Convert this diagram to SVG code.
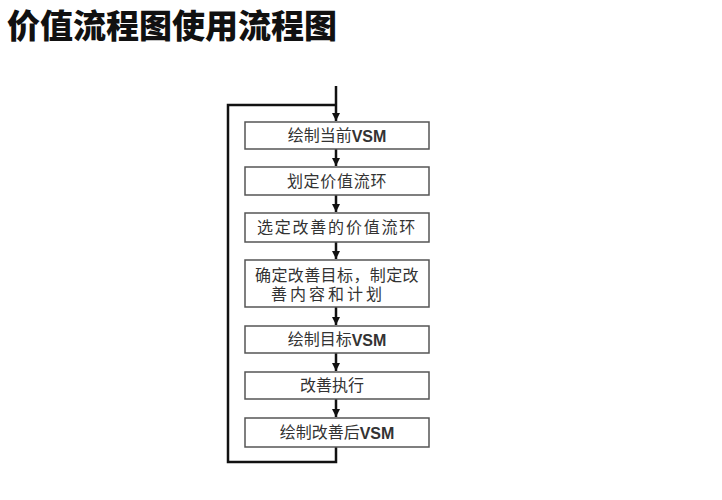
<svg xmlns="http://www.w3.org/2000/svg" width="722" height="500" viewBox="0 0 722 500">
<style>
.title{font-family:"Noto Sans CJK SC",sans-serif;font-size:33px;font-weight:900;fill:#111}
.box{fill:#fff;stroke:#555;stroke-width:1.5}
.lbl{font-family:"Liberation Sans","Noto Sans CJK SC",sans-serif;font-size:16px;fill:#333;text-anchor:middle;dominant-baseline:central}
.b{font-weight:bold}
.ln{fill:none;stroke:#111;stroke-width:2.5}
</style>
<defs>
<marker id="ah" viewBox="0 0 10 10" refX="10" refY="5" markerWidth="3.2" markerHeight="3.2" orient="auto" markerUnits="strokeWidth">
<path d="M0,0 L10,5 L0,10 z" fill="#111"/>
</marker>
</defs>
<rect width="722" height="500" fill="#fff"/>
<text class="title" x="7" y="38">价值流程图使用流程图</text>
<g id="connectors">
<path class="ln" d="M336,86 V121" marker-end="url(#ah)"/>
<path class="ln" d="M336,105 H228 V462 H336 V447"/>
<path class="ln" d="M336,149 V166" marker-end="url(#ah)"/>
<path class="ln" d="M336,195 V212" marker-end="url(#ah)"/>
<path class="ln" d="M336,242 V259" marker-end="url(#ah)"/>
<path class="ln" d="M336,307 V325" marker-end="url(#ah)"/>
<path class="ln" d="M336,353 V371" marker-end="url(#ah)"/>
<path class="ln" d="M336,399 V417" marker-end="url(#ah)"/>
</g>
<g id="n1"><rect class="box" x="245" y="122" width="184" height="27"/><text class="lbl" x="337" y="135.5">绘制当前<tspan class="b">VSM</tspan></text></g>
<g id="n2"><rect class="box" x="245" y="167" width="184" height="28"/><text class="lbl" x="337" y="181" letter-spacing="0.7">划定价值流环</text></g>
<g id="n3"><rect class="box" x="245" y="213" width="184" height="29"/><text class="lbl" x="337" y="227.5" letter-spacing="1.8">选定改善的价值流环</text></g>
<g id="n4"><rect class="box" x="245" y="260" width="184" height="47"/><text class="lbl" x="337" y="275" letter-spacing="0.4">确定改善目标，制定改</text><text class="lbl" x="328" y="294" letter-spacing="3">善内容和计划</text></g>
<g id="n5"><rect class="box" x="245" y="326" width="184" height="27"/><text class="lbl" x="337" y="339.5">绘制目标<tspan class="b">VSM</tspan></text></g>
<g id="n6"><rect class="box" x="245" y="372" width="184" height="27"/><text class="lbl" x="332" y="385.5">改善执行</text></g>
<g id="n7"><rect class="box" x="245" y="418" width="184" height="29"/><text class="lbl" x="337" y="432.5">绘制改善后<tspan class="b">VSM</tspan></text></g>
</svg>
